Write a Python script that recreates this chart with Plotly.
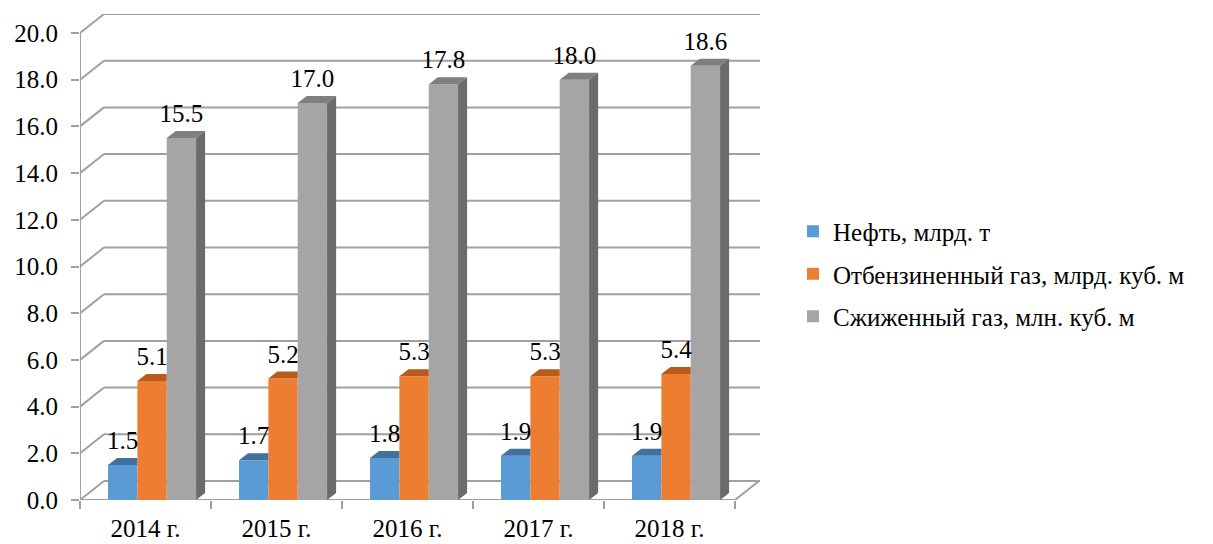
import plotly.graph_objects as go

# ---- data ----
categories = ["2014 г.", "2015 г.", "2016 г.", "2017 г.", "2018 г."]
oil = [1.5, 1.7, 1.8, 1.9, 1.9]
stripped_gas = [5.1, 5.2, 5.3, 5.3, 5.4]
lng = [15.5, 17.0, 17.8, 18.0, 18.6]
series_names = ["Нефть, млрд. т", "Отбензиненный газ, млрд. куб. м", "Сжиженный газ, млн. куб. м"]
y_ticks = [0, 2, 4, 6, 8, 10, 12, 14, 16, 18, 20]

# ---- style ----
front_cols = ["#5B9BD5", "#ED7D31", "#A5A5A5"]
top_cols = ["#41719C", "#B95B1C", "#7F7F7F"]
side_col = "#6B6B6B"
grid_col = "#A0A0A0"
FONT = "Liberation Serif"
FS = 25

# geometry (category units / value units)
W = 0.224
offsets = [-0.286, -0.062, 0.162]
d, e = 0.069, 0.30           # bar depth offset
ddx, ddy = 0.183, 0.814      # wall depth offset
label_pad = 0.42
x0 = -0.5
n = len(categories)
x_end = x0 + 680 / 131
y_top = 486 / 23.35

fig = go.Figure()
idx = list(range(n))
all_series = [oil, stripped_gas, lng]

for s, vals in enumerate(all_series):
    fig.add_trace(go.Bar(x=idx, y=vals, width=W, offset=offsets[s], name=series_names[s],
                         marker=dict(color=front_cols[s], line=dict(width=0)),
                         legendgroup=str(s), hoverinfo="skip"))
    tx, ty = [], []
    sx, sy = [], []
    for i, v in enumerate(vals):
        xl = i + offsets[s]
        xr = xl + W
        if s < 2:
            tx += [xl, xr, xr, xl + d, xl, None]
        else:
            tx += [xl, xr, xr + d, xl + d, xl, None]
            sx += [xr, xr, xr + d, xr + d, xr, None]
            sy += [0, v, v + e, e, 0, None]
        ty += [v, v, v + e, v + e, v, None]
    fig.add_trace(go.Scatter(x=tx, y=ty, mode="lines", fill="toself", fillcolor=top_cols[s],
                             line=dict(width=0, color=top_cols[s]), showlegend=False, hoverinfo="skip"))
    if sx:
        fig.add_trace(go.Scatter(x=sx, y=sy, mode="lines", fill="toself", fillcolor=side_col,
                                 line=dict(width=0, color=side_col), showlegend=False, hoverinfo="skip"))

# data labels
for s, vals in enumerate(all_series):
    fig.add_trace(go.Scatter(x=[i + offsets[s] + W / 2 for i in idx], y=[v + label_pad for v in vals],
                             mode="text", text=[f"{v:.1f}" for v in vals],
                             textposition="top center",
                             textfont=dict(family=FONT, size=FS, color="black"),
                             showlegend=False, cliponaxis=False, hoverinfo="skip"))

# walls / grid
shapes = []
line = dict(color=grid_col, width=2)
for v in y_ticks:
    shapes.append(dict(type="line", xref="x", yref="y", x0=x0, y0=v, x1=x0 + ddx, y1=v + ddy, line=line, layer="below"))
    shapes.append(dict(type="line", xref="x", yref="y", x0=x0 + ddx, y0=v + ddy, x1=x_end, y1=v + ddy, line=line, layer="below"))
shapes.append(dict(type="line", xref="x", yref="y", x0=x0, y0=0, x1=x0, y1=y_ticks[-1], line=line, layer="below"))
shapes.append(dict(type="line", xref="x", yref="y", x0=x0, y0=0, x1=n - 0.5, y1=0, line=line, layer="below"))
shapes.append(dict(type="line", xref="x", yref="y", x0=n - 0.5, y0=0, x1=n - 0.5 + ddx, y1=ddy, line=line, layer="below"))

fig.update_layout(
    width=1205, height=536,
    margin=dict(l=72, r=453, t=6, b=44, autoexpand=False),
    paper_bgcolor="white", plot_bgcolor="white",
    barmode="overlay",
    shapes=shapes,
    font=dict(family=FONT, size=FS, color="black"),
    showlegend=True,
    legend=dict(x=713 / 680, y=(500 - 274) / 486, xanchor="left", yanchor="middle",
                font=dict(family=FONT, size=FS, color="black"),
                tracegroupgap=7, itemwidth=30, bgcolor="rgba(0,0,0,0)"),
    xaxis=dict(range=[x0, x_end], tickmode="array", tickvals=idx, ticktext=categories,
               ticks="", showgrid=False, zeroline=False, showline=False, automargin=False,
               ticklabelstandoff=11,
               minor=dict(tickmode="array", tickvals=[k - 0.5 for k in range(n + 1)],
                          ticks="outside", ticklen=8, tickcolor=grid_col, tickwidth=2, showgrid=False)),
    yaxis=dict(range=[0, y_top], tickmode="array", tickvals=y_ticks,
               ticktext=[f"{v:.1f}" for v in y_ticks], automargin=False,
               ticks="outside", ticklen=8, tickcolor=grid_col, tickwidth=2,
               ticklabelstandoff=8,
               showgrid=False, zeroline=False, showline=False),
)

fig.write_html("out.html")
